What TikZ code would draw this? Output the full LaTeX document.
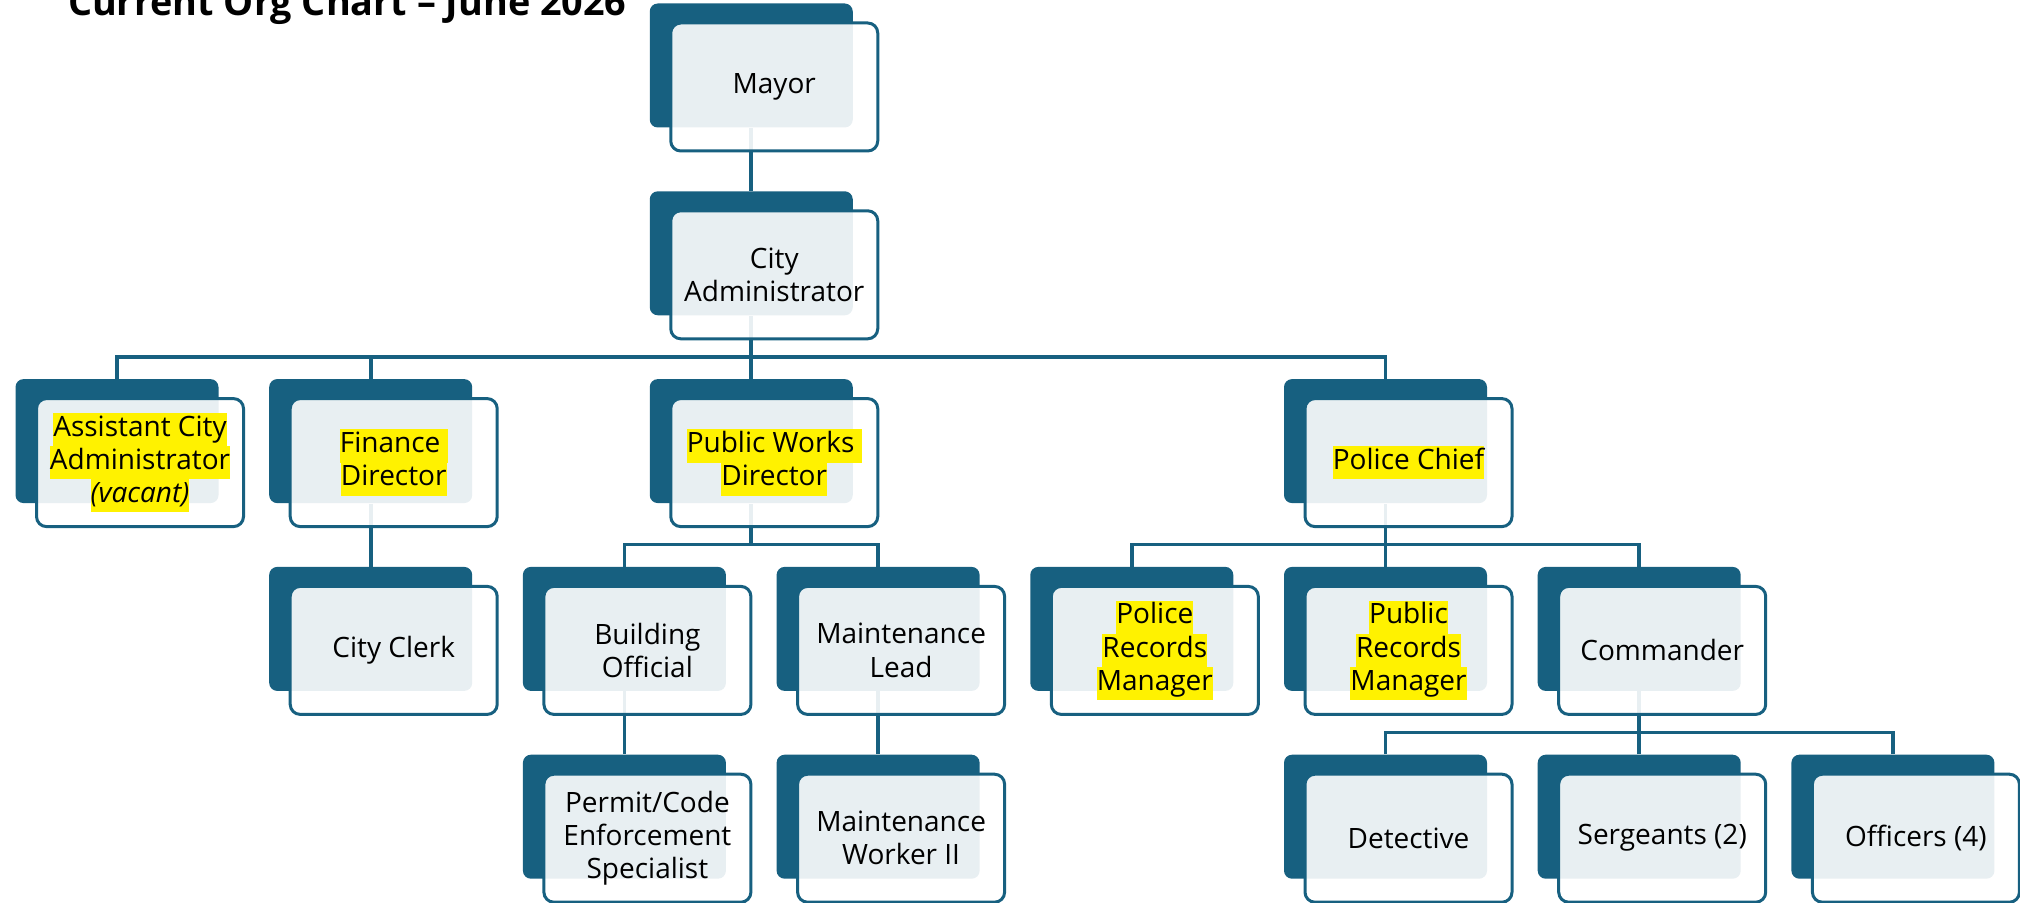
\documentclass[tikz,border=0pt]{standalone}
\usepackage{fontspec}
\setmainfont{Open Sans}
\usepackage{xcolor}
\usetikzlibrary{positioning}

\definecolor{orgblue}{RGB}{23,96,128}
\newcommand{\hlt}[1]{{\setlength{\fboxsep}{0pt}\colorbox{yellow}{\strut#1}}}

\begin{document}
\begin{tikzpicture}[
    x = 126.85pt, y = -93.9pt,
    back/.style    = {rectangle, rounded corners=4pt, minimum width=101.5pt,
                      minimum height=62pt, inner sep=0pt, fill=orgblue},
    front/.style   = {rectangle, rounded corners=5pt, minimum width=103.5pt,
                      minimum height=64pt, inner sep=2pt, align=center,
                      draw=orgblue, line width=1.5pt, fill=white,
                      fill opacity=0.9, text opacity=1,
                      font=\fontsize{14}{16.6}\selectfont},
    conn/.style    = {draw=orgblue, line width=1.8pt},
    heading/.style = {font=\fontsize{18.9}{22}\selectfont\bfseries,
                      anchor=base west}
]

\useasboundingbox (-0.4612,-0.3488) rectangle (7.5010,4.4595);
\clip (-0.4612,-0.3488) rectangle (7.5010,4.4595);

%% Title
\node[heading] (title) at (-0.2207,-0.2636) {Current Org Chart – June 2026};

%% Back boxes (column, row)
\node[back] (mayor)     at (2.5,0) {};
\node[back] (admin)     at (2.5,1) {};
\node[back] (asst)      at (0,2)   {};
\node[back] (finance)   at (1,2)   {};
\node[back] (pw)        at (2.5,2) {};
\node[back] (chief)     at (5,2)   {};
\node[back] (clerk)     at (1,3)   {};
\node[back] (building)  at (2,3)   {};
\node[back] (mlead)     at (3,3)   {};
\node[back] (polrec)    at (4,3)   {};
\node[back] (pubrec)    at (5,3)   {};
\node[back] (cmdr)      at (6,3)   {};
\node[back] (permit)    at (2,4)   {};
\node[back] (mworker)   at (3,4)   {};
\node[back] (detective) at (5,4)   {};
\node[back] (sergeants) at (6,4)   {};
\node[back] (officers)  at (7,4)   {};

%% Reporting lines
\draw[conn] (mayor.south) -- (admin.north);
\foreach \c in {asst,finance,pw,chief}
    \draw[conn] (\c.north) -- ++(0,11pt) -| (admin.south);
\draw[conn] (finance.south) -- (clerk.north);
\foreach \c in {building,mlead}
    \draw[conn] (\c.north) -- ++(0,11pt) -| (pw.south);
\foreach \c in {polrec,pubrec,cmdr}
    \draw[conn] (\c.north) -- ++(0,11pt) -| (chief.south);
\draw[conn] (building.south) -- (permit.north);
\draw[conn] (mlead.south) -- (mworker.north);
\foreach \c in {detective,sergeants,officers}
    \draw[conn] (\c.north) -- ++(0,11pt) -| (cmdr.south);

%% Front boxes with the job titles
\foreach \n/\t in {
    mayor/Mayor,
    admin/{City\\Administrator},
    asst/{\hlt{Assistant City}\\\hlt{Administrator}\\\hlt{\itshape(vacant)}},
    finance/{\hlt{Finance }\\\hlt{Director}},
    pw/{\hlt{Public Works }\\\hlt{Director}},
    chief/{\hlt{Police Chief}},
    clerk/City Clerk,
    building/{Building\\Official},
    mlead/{Maintenance\\Lead},
    polrec/{\hlt{Police}\\\hlt{Records}\\\hlt{Manager}},
    pubrec/{\hlt{Public}\\\hlt{Records}\\\hlt{Manager}},
    cmdr/Commander,
    permit/{Permit/Code\\Enforcement\\Specialist},
    mworker/{Maintenance\\Worker II},
    detective/Detective,
    sergeants/Sergeants (2),
    officers/Officers (4)}
    \node[front] (\n-t) at ([shift={(11.5pt,-10.75pt)}]\n.center) {\t};

\end{tikzpicture}
\end{document}
